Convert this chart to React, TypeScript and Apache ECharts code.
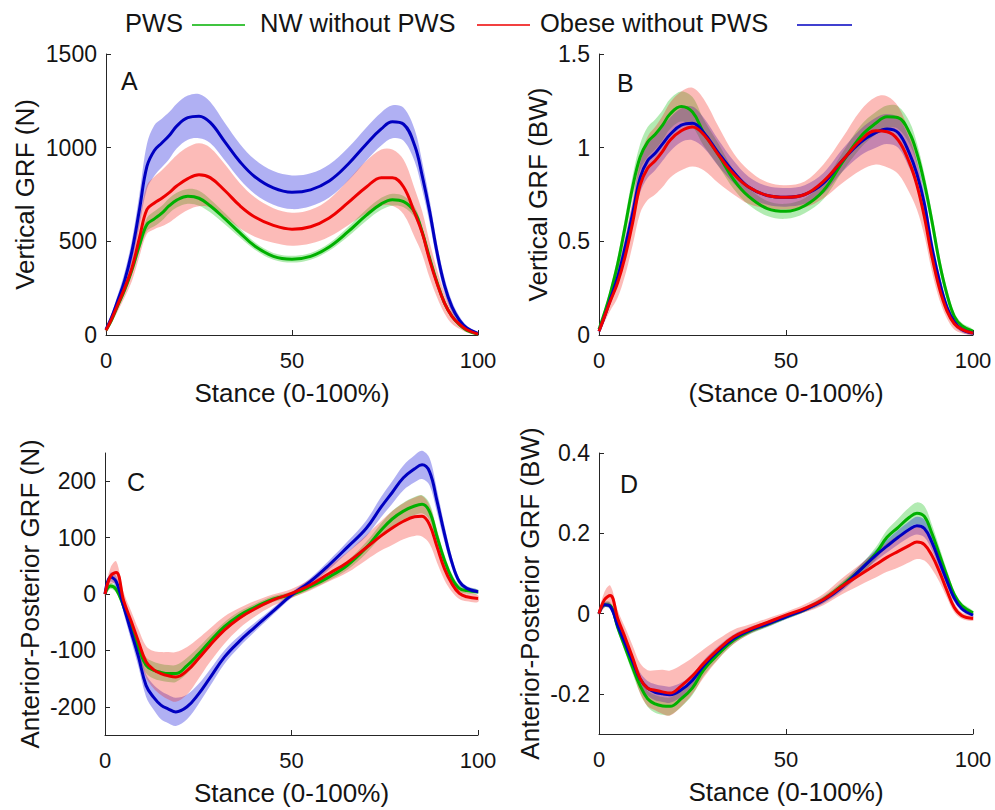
import React, { useEffect, useRef } from "react";
import * as echarts from "echarts";

const FONT = "'Liberation Sans', Arial, Helvetica, sans-serif";
const TXT = "#141414";
const AX = "#262626";

// stance (% of stance phase) sample points
const stance = [0, 1.5, 3, 5, 7, 9, 11, 13, 15, 17, 19, 22, 25, 28, 32, 36, 40, 45, 50, 55, 60, 65, 70, 74, 77, 80, 83, 85, 87, 89, 91, 93, 95, 97, 100];

// ---- Panel A: Vertical GRF (N)
const aGreen = [25, 80, 150, 240, 350, 480, 590, 620, 650, 690, 720, 740, 730, 690, 620, 545, 475, 420, 405, 420, 470, 550, 640, 700, 722, 712, 655, 550, 410, 280, 170, 100, 55, 25, 5];
const aGreenSd = [5, 10, 15, 20, 25, 30, 35, 40, 40, 40, 40, 40, 40, 35, 30, 25, 20, 18, 18, 18, 20, 25, 30, 32, 32, 30, 28, 25, 22, 18, 14, 10, 7, 5, 3];
const aRed = [25, 85, 155, 250, 360, 520, 670, 705, 730, 760, 795, 835, 855, 840, 770, 690, 630, 585, 565, 578, 625, 705, 790, 840, 840, 790, 650, 545, 400, 275, 170, 100, 58, 28, 5];
const aRedSd = [10, 20, 35, 50, 70, 100, 130, 140, 150, 160, 165, 168, 168, 160, 140, 120, 105, 92, 88, 90, 100, 120, 140, 150, 150, 145, 130, 115, 95, 75, 55, 40, 25, 15, 5];
const aBlue = [30, 95, 175, 290, 450, 670, 900, 985, 1025, 1065, 1115, 1160, 1168, 1135, 1030, 925, 845, 785, 762, 775, 822, 910, 1020, 1100, 1138, 1125, 1010, 850, 660, 440, 265, 150, 80, 38, 8];
const aBlueSd = [10, 20, 30, 45, 60, 85, 120, 135, 130, 125, 120, 118, 118, 110, 100, 95, 92, 90, 90, 88, 88, 88, 88, 88, 88, 88, 85, 75, 62, 50, 40, 30, 20, 12, 5];

// ---- Panel B: Vertical GRF (BW)
const bGreen = [0.03, 0.12, 0.22, 0.38, 0.58, 0.79, 0.95, 1.03, 1.07, 1.12, 1.18, 1.22, 1.19, 1.08, 0.96, 0.83, 0.74, 0.675, 0.66, 0.69, 0.77, 0.92, 1.06, 1.13, 1.165, 1.16, 1.08, 0.97, 0.81, 0.61, 0.39, 0.22, 0.1, 0.05, 0.02];
const bGreenSd = [0.01, 0.02, 0.03, 0.04, 0.05, 0.06, 0.07, 0.08, 0.08, 0.08, 0.08, 0.08, 0.08, 0.07, 0.06, 0.05, 0.045, 0.04, 0.04, 0.04, 0.045, 0.05, 0.06, 0.06, 0.06, 0.06, 0.06, 0.055, 0.05, 0.045, 0.04, 0.03, 0.02, 0.015, 0.01];
const bRed = [0.02, 0.1, 0.18, 0.28, 0.42, 0.6, 0.8, 0.89, 0.93, 0.98, 1.04, 1.09, 1.11, 1.07, 0.96, 0.86, 0.79, 0.745, 0.735, 0.75, 0.82, 0.93, 1.04, 1.09, 1.085, 1.04, 0.92, 0.8, 0.63, 0.42, 0.25, 0.13, 0.06, 0.03, 0.01];
const bRedSd = [0.01, 0.03, 0.05, 0.08, 0.1, 0.12, 0.15, 0.17, 0.18, 0.19, 0.2, 0.21, 0.21, 0.19, 0.15, 0.11, 0.09, 0.07, 0.065, 0.07, 0.09, 0.12, 0.16, 0.18, 0.19, 0.18, 0.16, 0.13, 0.1, 0.08, 0.06, 0.04, 0.03, 0.02, 0.01];
const bBlue = [0.02, 0.1, 0.19, 0.31, 0.47, 0.65, 0.84, 0.93, 0.97, 1.02, 1.07, 1.12, 1.13, 1.08, 0.97, 0.87, 0.79, 0.745, 0.735, 0.75, 0.81, 0.93, 1.03, 1.08, 1.1, 1.08, 0.97, 0.86, 0.7, 0.47, 0.29, 0.15, 0.07, 0.03, 0.01];
const bBlueSd = [0.01, 0.02, 0.03, 0.04, 0.05, 0.06, 0.08, 0.09, 0.09, 0.09, 0.09, 0.09, 0.09, 0.08, 0.07, 0.06, 0.055, 0.05, 0.05, 0.05, 0.055, 0.06, 0.07, 0.08, 0.08, 0.08, 0.08, 0.07, 0.06, 0.05, 0.04, 0.03, 0.02, 0.015, 0.01];

// ---- Panel C: Anterior-Posterior GRF (N)
const cGreen = [0, 14, 8, -22, -60, -96, -126, -135, -139, -141, -141, -127, -107, -85, -58, -38, -24, -9, -1, 13, 30, 51, 82, 113, 133, 147, 156, 159, 146, 102, 60, 28, 10, 6, 4];
const cGreenSd = [2, 5, 6, 8, 10, 12, 14, 15, 15, 15, 15, 14, 12, 10, 8, 7, 6, 5, 5, 5, 6, 8, 10, 12, 14, 15, 16, 16, 15, 13, 10, 8, 6, 5, 4];
const cRed = [0, 32, 38, -12, -48, -85, -120, -134, -141, -145, -147, -136, -115, -92, -64, -43, -27, -11, 1, 16, 36, 56, 82, 103, 117, 129, 137, 138, 123, 84, 45, 18, 1, -5, -8];
const cRedSd = [5, 15, 20, 15, 18, 22, 28, 33, 38, 42, 44, 42, 36, 30, 24, 18, 14, 10, 8, 10, 14, 18, 22, 26, 30, 32, 34, 36, 34, 28, 20, 14, 10, 8, 6];
const cBlue = [0, 30, 22, -22, -67, -112, -162, -183, -197, -204, -209, -200, -178, -150, -112, -84, -60, -31, -2, 22, 51, 83, 116, 154, 180, 206, 222, 229, 217, 165, 107, 56, 22, 10, 4];
const cBlueSd = [3, 8, 10, 12, 15, 18, 20, 22, 25, 25, 25, 22, 18, 15, 12, 10, 8, 6, 5, 6, 8, 10, 14, 18, 20, 22, 24, 25, 24, 20, 15, 10, 6, 4, 3];

// ---- Panel D: Anterior-Posterior GRF (BW)
const dGreen = [0, 0.022, 0.02, -0.035, -0.085, -0.135, -0.18, -0.212, -0.225, -0.23, -0.231, -0.212, -0.185, -0.14, -0.1, -0.066, -0.045, -0.027, -0.008, 0.01, 0.035, 0.07, 0.11, 0.15, 0.19, 0.215, 0.24, 0.25, 0.242, 0.2, 0.148, 0.095, 0.047, 0.02, 0.002];
const dGreenSd = [0.003, 0.006, 0.008, 0.01, 0.012, 0.015, 0.018, 0.02, 0.022, 0.022, 0.022, 0.02, 0.018, 0.015, 0.012, 0.01, 0.008, 0.007, 0.006, 0.006, 0.008, 0.01, 0.012, 0.015, 0.018, 0.022, 0.025, 0.027, 0.026, 0.022, 0.018, 0.014, 0.01, 0.007, 0.005];
const dRed = [0, 0.035, 0.045, -0.012, -0.06, -0.11, -0.162, -0.186, -0.191, -0.195, -0.198, -0.18, -0.155, -0.124, -0.088, -0.058, -0.04, -0.022, -0.004, 0.013, 0.035, 0.068, 0.098, 0.122, 0.14, 0.155, 0.17, 0.178, 0.172, 0.145, 0.105, 0.058, 0.015, -0.005, -0.012];
const dRedSd = [0.005, 0.02, 0.025, 0.02, 0.025, 0.03, 0.038, 0.045, 0.05, 0.055, 0.056, 0.052, 0.045, 0.035, 0.025, 0.018, 0.012, 0.01, 0.008, 0.01, 0.014, 0.02, 0.026, 0.032, 0.036, 0.04, 0.042, 0.042, 0.04, 0.034, 0.026, 0.018, 0.012, 0.008, 0.006];
const dBlue = [0, 0.022, 0.018, -0.03, -0.075, -0.12, -0.163, -0.186, -0.196, -0.2, -0.202, -0.19, -0.166, -0.13, -0.092, -0.062, -0.043, -0.026, -0.008, 0.01, 0.033, 0.066, 0.11, 0.145, 0.168, 0.19, 0.21, 0.219, 0.212, 0.178, 0.13, 0.082, 0.038, 0.012, -0.004];
const dBlueSd = [0.003, 0.006, 0.008, 0.01, 0.012, 0.014, 0.016, 0.018, 0.02, 0.02, 0.02, 0.018, 0.016, 0.014, 0.012, 0.01, 0.008, 0.007, 0.006, 0.006, 0.008, 0.01, 0.012, 0.014, 0.016, 0.018, 0.02, 0.022, 0.022, 0.02, 0.016, 0.012, 0.009, 0.006, 0.004];

// axis tick labels
const xTicks = [0, 50, 100];
const aTicks = [0, 500, 1000, 1500];
const bTicks = [0, 0.5, 1, 1.5];
const cTicks = [-200, -100, 0, 100, 200];
const dTicks = [-0.2, 0, 0.2, 0.4];

// legend entries (text followed by its line sample, as in the reference)
const legendNames = ["PWS", "NW without PWS", "Obese without PWS"];
const legendKeys = ["green", "red", "blue"];

const GROUPS: Record<string, { name: string; color: string; band: string }> = {
  green: { name: "PWS", color: "#00b000", band: "rgba(0,190,0,0.30)" },
  red: { name: "NW without PWS", color: "#ee0000", band: "rgba(245,30,20,0.30)" },
  blue: { name: "Obese without PWS", color: "#0000c0", band: "rgba(0,0,215,0.31)" },
};

const LEGEND_LAYOUT = [
  { textX: 125, lineX1: 192, lineX2: 245 },
  { textX: 260, lineX1: 477, lineX2: 530 },
  { textX: 540, lineX1: 797, lineX2: 852 },
];

const PANELS = [
  { letter: "A", grid: { left: 106, top: 54, width: 372, height: 281 }, min: 0, max: 1500, ticks: aTicks, xName: "Stance (0-100%)", yName: "Vertical GRF (N)", yGap: 68, letterPos: [121, 81],
    series: { green: [aGreen, aGreenSd], blue: [aBlue, aBlueSd], red: [aRed, aRedSd] } },
  { letter: "B", grid: { left: 599, top: 54, width: 374, height: 281 }, min: 0, max: 1.5, ticks: bTicks, xName: "(Stance 0-100%)", yName: "Vertical GRF (BW)", yGap: 48, letterPos: [617, 83],
    series: { green: [bGreen, bGreenSd], blue: [bBlue, bBlueSd], red: [bRed, bRedSd] } },
  { letter: "C", grid: { left: 105, top: 453, width: 373, height: 282 }, min: -250, max: 250, ticks: cTicks, xName: "Stance (0-100%)", yName: "Anterior-Posterior GRF (N)", yGap: 62, letterPos: [127, 482],
    series: { green: [cGreen, cGreenSd], blue: [cBlue, cBlueSd], red: [cRed, cRedSd] } },
  { letter: "D", grid: { left: 599, top: 453, width: 374, height: 281 }, min: -0.3, max: 0.4, ticks: dTicks, xName: "Stance (0-100%)", yName: "Anterior-Posterior GRF (BW)", yGap: 56, letterPos: [620, 484],
    series: { green: [dGreen, dGreenSd], blue: [dBlue, dBlueSd], red: [dRed, dRedSd] } },
];

function buildOption() {
  const grids: any[] = [];
  const xAxes: any[] = [];
  const yAxes: any[] = [];
  const series: any[] = [];
  const graphics: any[] = [];
  PANELS.forEach((p, pi) => {
    grids.push({ ...p.grid, containLabel: false });
    xAxes.push({
      gridIndex: pi, type: "value", min: 0, max: 100,
      axisLine: { show: true, onZero: false, lineStyle: { color: AX, width: 1 } },
      axisTick: { show: true, inside: true, length: 5, lineStyle: { color: AX }, customValues: xTicks },
      axisLabel: { customValues: xTicks, fontSize: 22, fontFamily: FONT, color: TXT, margin: 14, formatter: (v: number) => String(v) },
      splitLine: { show: false },
      name: p.xName, nameLocation: "middle", nameGap: 45,
      nameTextStyle: { fontSize: 26, fontFamily: FONT, color: TXT },
    });
    yAxes.push({
      gridIndex: pi, type: "value", min: p.min, max: p.max,
      axisLine: { show: true, onZero: false, lineStyle: { color: AX, width: 1 } },
      axisTick: { show: true, inside: true, length: 5, lineStyle: { color: AX }, customValues: p.ticks },
      axisLabel: { customValues: p.ticks, fontSize: 23, fontFamily: FONT, color: TXT, margin: 9, formatter: (v: number) => String(v) },
      splitLine: { show: false },
      name: p.yName, nameLocation: "middle", nameGap: p.yGap,
      nameTextStyle: { fontSize: 26, fontFamily: FONT, color: TXT },
    });
    (["green", "blue", "red"] as const).forEach((key) => {
      const g = GROUPS[key];
      const [mean, sd] = (p.series as any)[key] as number[][];
      series.push({
        type: "custom", name: `${g.name} band ${pi}`, xAxisIndex: pi, yAxisIndex: pi,
        coordinateSystem: "cartesian2d",
        data: stance.map((t, i) => [t, mean[i] - sd[i], mean[i] + sd[i]]),
        encode: { x: 0, y: [1, 2] },
        silent: true,
        renderItem: (params: any, api: any) => {
          if (params.dataIndex !== 0) return null;
          const upper = stance.map((t, i) => api.coord([t, mean[i] + sd[i]]));
          const lower = stance.map((t, i) => api.coord([t, mean[i] - sd[i]])).reverse();
          return {
            type: "polygon",
            shape: { points: upper.concat(lower), smooth: 0.35 },
            style: { fill: g.band, stroke: "none" },
            silent: true,
          };
        },
      });
      series.push({
        type: "line", name: g.name, xAxisIndex: pi, yAxisIndex: pi,
        data: stance.map((t, i) => [t, mean[i]]),
        symbol: "none", smooth: 0.4,
        lineStyle: { color: g.color, width: 3 },
        itemStyle: { color: g.color },
      });
    });
    graphics.push({
      type: "text", x: p.letterPos[0], y: p.letterPos[1],
      style: { text: p.letter, fontSize: 25, fontFamily: FONT, fill: TXT, verticalAlign: "middle" },
    });
  });

  legendNames.forEach((name, i) => {
    const L = LEGEND_LAYOUT[i];
    const g = GROUPS[legendKeys[i]];
    graphics.push({
      type: "text", x: L.textX, y: 23,
      style: { text: name, fontSize: 25.5, fontFamily: FONT, fill: TXT, verticalAlign: "middle" },
    });
    graphics.push({
      type: "line", shape: { x1: L.lineX1, y1: 25, x2: L.lineX2, y2: 25 },
      style: { stroke: g.color, lineWidth: 1.5 },
    });
  });

  return {
    animation: false,
    backgroundColor: "#ffffff",
    grid: grids,
    xAxis: xAxes,
    yAxis: yAxes,
    series,
    graphic: graphics,
  };
}

export default function App() {
  const ref = useRef<HTMLDivElement>(null);
  useEffect(() => {
    document.body.style.margin = "0";
    if (!ref.current) return;
    const chart = echarts.init(ref.current, undefined, { renderer: "svg" });
    chart.setOption(buildOption() as any);
    return () => chart.dispose();
  }, []);
  return <div ref={ref} style={{ width: 995, height: 810, background: "#fff" }} />;
}
